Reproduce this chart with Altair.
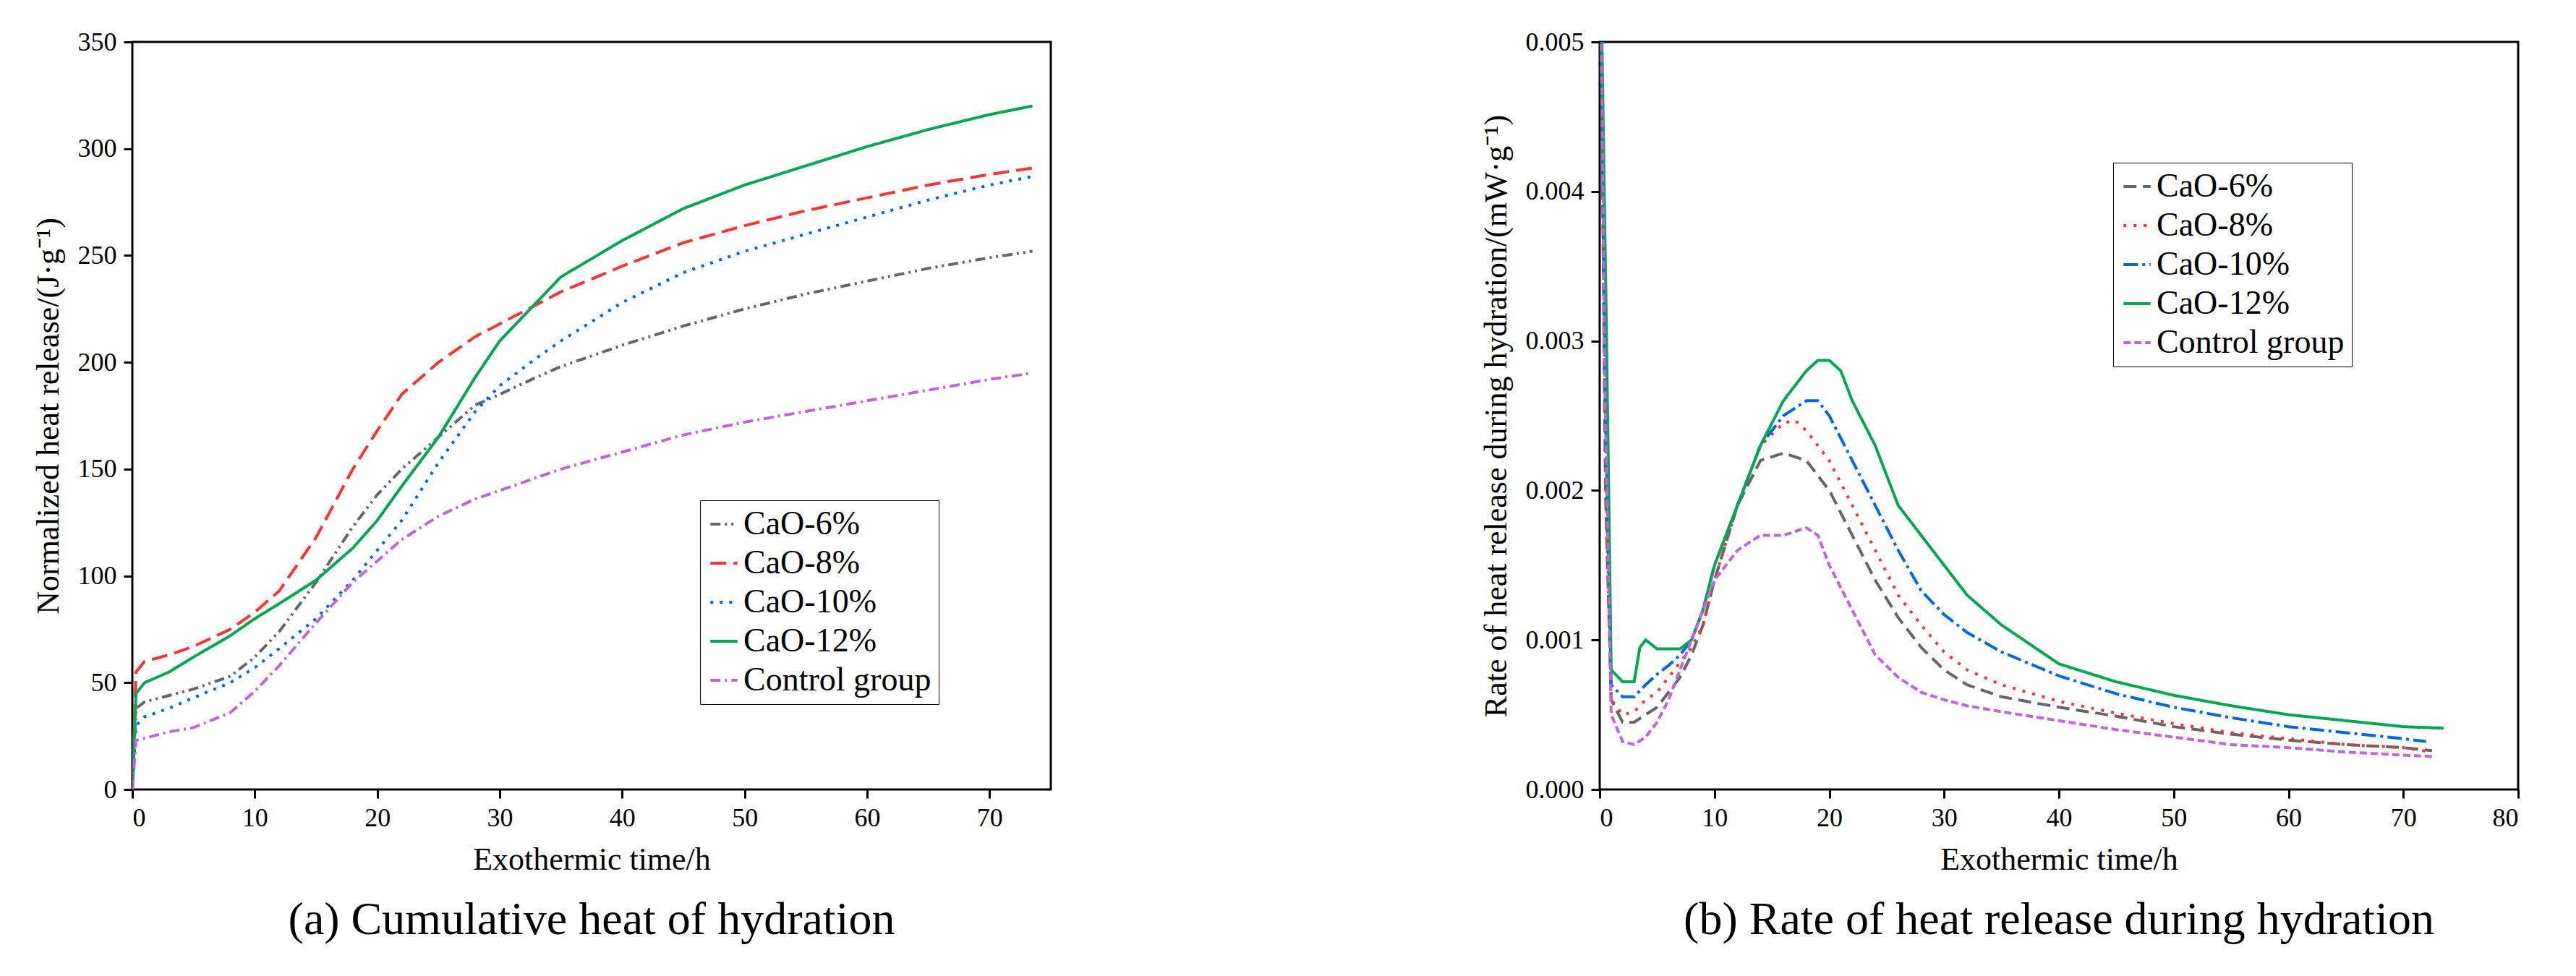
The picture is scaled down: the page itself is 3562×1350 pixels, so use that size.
import altair as alt
import pandas as pd

SERIES = ["CaO-6%", "CaO-8%", "CaO-10%", "CaO-12%", "Control group"]

# (a) cumulative heat, J/g
cum_t = [0, 0.3, 1, 3, 5, 8, 10, 12, 15, 18, 20, 22, 25, 28, 30, 33, 35, 40, 45, 50, 55, 60, 65, 70, 73.5]
cum_6 = [0, 38, 41, 44, 47, 53, 62, 74, 97, 123, 138, 150, 165, 180, 185, 193, 198, 208, 217, 225, 232, 238, 244, 249, 252]
cum_8 = [0, 55, 60, 63, 67, 75, 83, 93, 118, 150, 168, 185, 200, 212, 218, 227, 233, 245, 256, 264, 271, 277, 283, 288, 291]
cum_10 = [0, 30, 34, 38, 43, 50, 57, 66, 80, 98, 112, 126, 153, 177, 189, 202, 210, 228, 242, 252, 260, 268, 276, 283, 287]
cum_12 = [0, 45, 50, 55, 62, 72, 80, 87, 98, 113, 126, 142, 165, 193, 210, 228, 240, 257, 272, 283, 292, 301, 309, 316, 320]
cum_ctrl = [0, 23, 24, 27, 29, 36, 46, 58, 78, 97, 107, 117, 128, 136, 140, 146, 150, 158, 166, 172, 177, 182, 187, 192, 195]

# (b) heat release rate, mW/g
r6_t = [0, 0.5, 1, 2, 3, 4, 5, 6, 7, 8, 9, 10, 12, 14, 16, 18, 20, 22, 24, 26, 28, 30, 32, 35, 40, 45, 50, 55, 60, 65, 70, 72.5]
r6 = [0.006, 0.002, 0.0006, 0.00045, 0.00045, 0.0005, 0.00055, 0.00065, 0.00075, 0.0009, 0.0011, 0.0014, 0.0019,
      0.0022, 0.00225, 0.0022, 0.002, 0.0017, 0.0014, 0.00115, 0.00095, 0.0008, 0.0007, 0.00062, 0.00055, 0.00049,
      0.00042, 0.00037, 0.00033, 0.0003, 0.00028, 0.00026]
r8_t = [0, 0.5, 1, 2, 3, 4, 5, 6, 7, 8, 9, 10, 12, 14, 16, 17, 18, 20, 22, 24, 26, 28, 30, 32, 35, 40, 45, 50, 55, 60, 65, 70, 72.5]
r8 = [0.006, 0.0022, 0.0006, 0.0005, 0.00052, 0.0006, 0.00065, 0.00075, 0.00085, 0.00095, 0.0011, 0.0014, 0.0019,
      0.0023, 0.00245, 0.00247, 0.0024, 0.0022, 0.0019, 0.0016, 0.0013, 0.0011, 0.00092, 0.0008, 0.0007, 0.00059,
      0.00051, 0.00044, 0.00038, 0.00034, 0.0003, 0.00028, 0.00025]
r10_t = [0, 0.5, 1, 2, 3, 4, 5, 6, 7, 8, 9, 10, 12, 14, 16, 18, 19, 20, 22, 24, 26, 28, 30, 32, 35, 40, 45, 50, 55, 60, 65, 70, 72]
r10 = [0.006, 0.0025, 0.0007, 0.00062, 0.00062, 0.0007, 0.00077, 0.00083, 0.0009, 0.001, 0.0012, 0.0015, 0.0019,
       0.0023, 0.0025, 0.0026, 0.0026, 0.0025, 0.0022, 0.0019, 0.0016, 0.00133, 0.00117, 0.00105, 0.00092, 0.00076,
       0.00064, 0.00055, 0.00048, 0.00042, 0.00038, 0.00034, 0.00032]
r12_t = [0, 0.6, 1, 2, 3, 3.5, 4, 5, 6, 7, 8, 9, 10, 12, 14, 16, 18, 19, 20, 21, 22, 24, 26, 28, 30, 32, 35, 40, 45, 50,
         55, 60, 65, 70, 73.5]
r12 = [0.006, 0.003, 0.0008, 0.00072, 0.00072, 0.00095, 0.001, 0.00094, 0.00094, 0.00094, 0.001, 0.0012, 0.0015,
       0.0019, 0.0023, 0.0026, 0.0028, 0.00287, 0.00287, 0.0028, 0.0026, 0.0023, 0.0019, 0.0017, 0.0015, 0.0013,
       0.0011, 0.00084, 0.00072, 0.00063, 0.00056, 0.0005, 0.00046, 0.00042, 0.00041]
rc_t = [0, 0.5, 1, 2, 3, 4, 5, 6, 7, 8, 9, 10, 12, 14, 16, 18, 19, 20, 22, 24, 26, 28, 30, 32, 35, 40, 45, 50, 55, 60, 65, 70, 72.5]
rc = [0.006, 0.0025, 0.0005, 0.00032, 0.0003, 0.00035, 0.00045, 0.0006, 0.0008, 0.001, 0.0012, 0.0014, 0.0016,
      0.0017, 0.0017, 0.00175, 0.0017, 0.0015, 0.0012, 0.0009, 0.00075, 0.00065, 0.0006, 0.00056, 0.00052, 0.00046,
      0.0004, 0.00035, 0.0003, 0.00028, 0.00025, 0.00023, 0.00022]

COLORS = ["#666666", "#FF3333", "#0066E6", "#00A651", "#BB66DD"]
FONT = "Liberation Serif"


def long_frame(pairs):
    rows = []
    for name, (ts, vs) in zip(SERIES, pairs):
        rows += [{"series": name, "t": t, "v": v} for t, v in zip(ts, vs)]
    return pd.DataFrame(rows)


def panel(df, dashes, xmax, ymax, yfmt, ytitle, caption, legend_xy):
    legend = alt.Legend(
        title=None, orient="none", legendX=legend_xy[0], legendY=legend_xy[1],
        symbolType="stroke", symbolSize=1400, symbolStrokeWidth=4, labelFontSize=46,
        labelFont=FONT, rowPadding=8, padding=10, strokeColor="black",
        fillColor="white", labelLimit=400,
    )
    return (
        alt.Chart(df)
        .mark_line(strokeWidth=4, clip=True)
        .encode(
            x=alt.X("t:Q", title="Exothermic time/h", scale=alt.Scale(domain=[0, xmax], nice=False),
                    axis=alt.Axis(values=list(range(0, xmax + 1, 10)))),
            y=alt.Y("v:Q", title=ytitle, scale=alt.Scale(domain=[0, ymax], nice=False),
                    axis=alt.Axis(format=yfmt, tickCount=6)),
            color=alt.Color("series:N", sort=SERIES, scale=alt.Scale(domain=SERIES, range=COLORS), legend=legend),
            strokeDash=alt.StrokeDash("series:N", sort=SERIES,
                                      scale=alt.Scale(domain=SERIES, range=dashes), legend=legend),
            detail="series:N",
        )
        .properties(width=1270, height=1034,
                    title=alt.TitleParams(caption, orient="bottom", fontSize=64, font=FONT,
                                          fontWeight="normal", offset=30))
    )


left = panel(
    long_frame([(cum_t, cum_6), (cum_t, cum_8), (cum_t, cum_10), (cum_t, cum_12), (cum_t, cum_ctrl)]),
    [[14, 6, 3, 6, 3, 6], [22, 10], [4, 9], [1, 0], [14, 6, 3, 6]],
    75, 350, "d", "Normalized heat release/(J·g⁻¹)",
    "(a) Cumulative heat of hydration", (785, 634),
)
right = panel(
    long_frame([(r6_t, r6), (r8_t, r8), (r10_t, r10), (r12_t, r12), (rc_t, rc)]),
    [[18, 9], [4, 10], [20, 6, 4, 6], [1, 0], [10, 5]],
    80, 0.005, ".3f", "Rate of heat release during hydration/(mW·g⁻¹)",
    "(b) Rate of heat release during hydration", (710, 167),
)

chart = (
    alt.hconcat(left, right, spacing=590)
    .resolve_scale(color="independent", strokeDash="independent")
    .configure(background="white", padding={"left": 35, "top": 30, "right": 10, "bottom": 10})
    .configure_view(stroke="black", strokeWidth=3)
    .configure_axis(labelFont=FONT, titleFont=FONT, labelFontSize=36, titleFontSize=44,
                    titleFontWeight="normal", labelColor="black", titleColor="black",
                    domain=False, grid=False, tickColor="black", tickWidth=3, tickSize=12, labelPadding=10,
                    titlePadding=18)
)
chart.save("out.html", embed_options={"renderer": "svg", "actions": False})
